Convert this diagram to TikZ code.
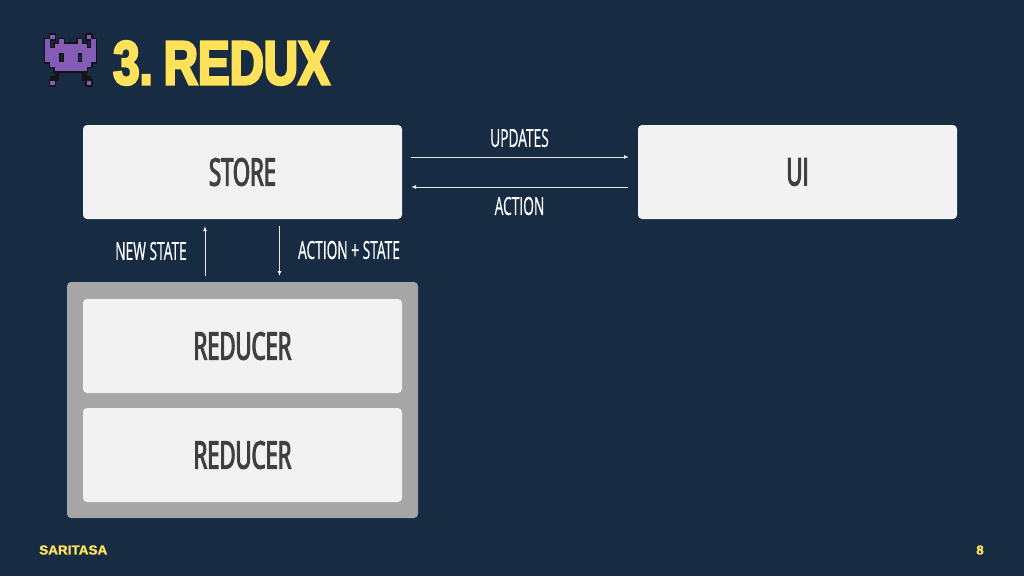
\documentclass[tikz,border=0pt]{standalone}
\usepackage{fontspec}
\setmainfont{Liberation Sans}
\newfontfamily\titlefont[FakeStretch=0.765,FakeBold=4,WordSpace=0.5]{Liberation Sans Bold}
\newfontfamily\boxfont[FakeStretch=0.58,FakeBold=3]{Open Sans}
\newfontfamily\labelfont[FakeStretch=0.55,FakeBold=0.5]{Open Sans}
\newfontfamily\footfont[FakeStretch=1.04,FakeBold=1.5]{Liberation Sans Bold}
\usetikzlibrary{positioning,arrows.meta}
\definecolor{bo}{RGB}{23,44,66}
\definecolor{jaune}{RGB}{255,226,89}
\definecolor{cardfill}{RGB}{242,242,242}
\definecolor{cardtext}{RGB}{64,64,64}
\definecolor{stackfill}{RGB}{166,166,166}
\definecolor{invader}{RGB}{132,92,184}
\definecolor{invaderdark}{RGB}{20,20,24}
\definecolor{flowline}{RGB}{232,232,232}
\newcommand{\invadercells}{2/1,1/2,4/2,1/3,3/3,4/3,5/3,6/3,1/4,2/4,3/4,4/4,5/4,6/4,1/5,2/5,3/5,5/5,6/5,1/6,2/6,3/6,5/6,6/6,2/7,3/7,4/7,5/7,6/7,3/8,4/8,5/8,6/8,2/11}
\tikzset{
  card/.style={fill=cardfill,rounded corners=4pt,minimum width=319pt,minimum height=94pt,
    outer sep=0pt,inner sep=0pt,text=cardtext,font=\boxfont\fontsize{38}{38}\selectfont},
  stack/.style={fill=stackfill,rounded corners=4pt,minimum width=351pt,minimum height=236pt,
    outer sep=0pt,inner sep=0pt},
  flowlabel/.style={text=white,inner sep=0pt,font=\labelfont\fontsize{25}{25}\selectfont},
  flow/.style={draw=flowline,line width=1pt,-{Latex[length=5pt,width=4pt]}},
  pixels/.style={shift={(70.7,30)},x=4.6pt,y=-4.6pt}
}
\begin{document}
\begin{tikzpicture}[x=1pt,y=-1pt]
\fill[bo](0,0)rectangle(1024,576);
\useasboundingbox(0,0)rectangle(1024,576);
% icone
\foreach \s in {1,-1}{
\begin{scope}[pixels,xscale=\s]
\foreach \c/\r in \invadercells
\fill[invaderdark](\c-6.8,\r-0.3)rectangle ++(1.6,1.6);
\foreach \c/\r in {3/9,3/10,2/10}
\fill[invaderdark](\c-6.5,\r)rectangle ++(1,1);
\end{scope}
}
\foreach \s in {1,-1}{
\begin{scope}[pixels,xscale=\s]
\foreach \c/\r in \invadercells
\fill[invader](\c-6.5,\r)rectangle ++(1,1);
\end{scope}
}
% titre
\node[text=jaune,anchor=west,inner sep=0pt,font=\titlefont\fontsize{62}{62}\selectfont](title)at(113,63){3. REDUX};
% blocs
\node[card](store)at(242.5,172){STORE};
\node[card](ui)at(797.5,172){UI};
\node[stack](reducers)at(242.5,400){};
\node[card](reducera)at(242.5,346){REDUCER};
\node[card](reducerb)at(242.5,455){REDUCER};
% fleches
\draw[flow,shorten <=9pt,shorten >=9pt]([yshift=15pt]store.east)--([yshift=15pt]ui.west);
\draw[flow,shorten <=10pt,shorten >=9pt]([yshift=-15pt]ui.west)--([yshift=-15pt]store.east);
\draw[flow,shorten <=6pt,shorten >=7pt]([xshift=-37.5pt]reducers.north)--([xshift=-37.5pt]store.south);
\draw[flow,shorten <=7pt,shorten >=6pt]([xshift=37pt]store.south)--([xshift=37pt]reducers.north);
% textes
\node[flowlabel](updates)at(519.5,138){UPDATES};
\node[flowlabel](action)at(519.5,206){ACTION};
\node[flowlabel](newstate)at(151,251){NEW STATE};
\node[flowlabel](actionstate)at(349,250){ACTION + STATE};
\node[text=jaune,anchor=west,inner sep=0pt,font=\footfont\fontsize{13}{13}\selectfont](brand)at(39,550){SARITASA};
\node[text=jaune,inner sep=0pt,font=\footfont\fontsize{13}{13}\selectfont](page)at(980,550){8};
\end{tikzpicture}
\end{document}
